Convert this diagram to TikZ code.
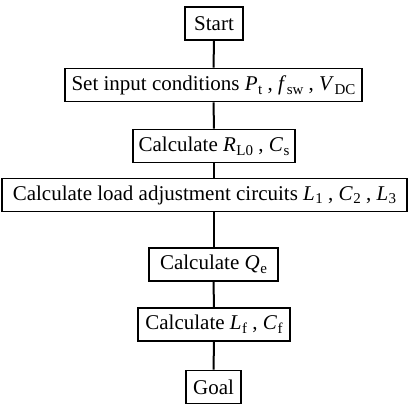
\documentclass[tikz,border=0pt]{standalone}
\usepackage{fontspec}
\setmainfont{Liberation Serif}
\newcommand\vsub[2]{\textit{#1}\kern0.5pt\raisebox{-0.4ex}{\fontsize{15}{15}\selectfont #2}}
\begin{document}
\begin{tikzpicture}[x=1pt,y=-1pt,
  box/.style={draw, line width=1.6pt, minimum height=33pt, inner sep=0pt, font=\fontsize{21}{24}\selectfont},
  link/.style={line width=2pt}]
\useasboundingbox (0,0) rectangle (410,404);
\node[box, minimum width=58pt]  (start) at (214,23.5) {Start};
\node[box, minimum width=297pt] (set)   at (213.5,85) {Set input conditions \vsub{P}{t} , \vsub{f}{sw} , \vsub{V}{DC}};
\node[box, minimum width=162pt] (rl)    at (214,146) {Calculate \vsub{R}{L0} , \vsub{C}{s}};
\node[box, minimum width=405pt] (load)  at (204.5,195) {Calculate load adjustment circuits \vsub{L}{1} , \vsub{C}{2} , \vsub{L}{3}};
\node[box, minimum width=129pt] (qe)    at (213.5,264.5) {Calculate \vsub{Q}{e}};
\node[box, minimum width=152pt] (lf)    at (214,324.5) {Calculate \vsub{L}{f} , \vsub{C}{f}};
\node[box, minimum width=55pt]  (goal)  at (213.5,387) {Goal};
\draw[link] (start) -- (set);
\draw[link] (set) -- (rl);
\draw[link] (rl.south) -- (rl.south |- load.north);
\draw[link] (qe.north |- load.south) -- (qe.north);
\draw[link] (qe) -- (lf);
\draw[link] (lf) -- (goal);
\end{tikzpicture}
\end{document}
